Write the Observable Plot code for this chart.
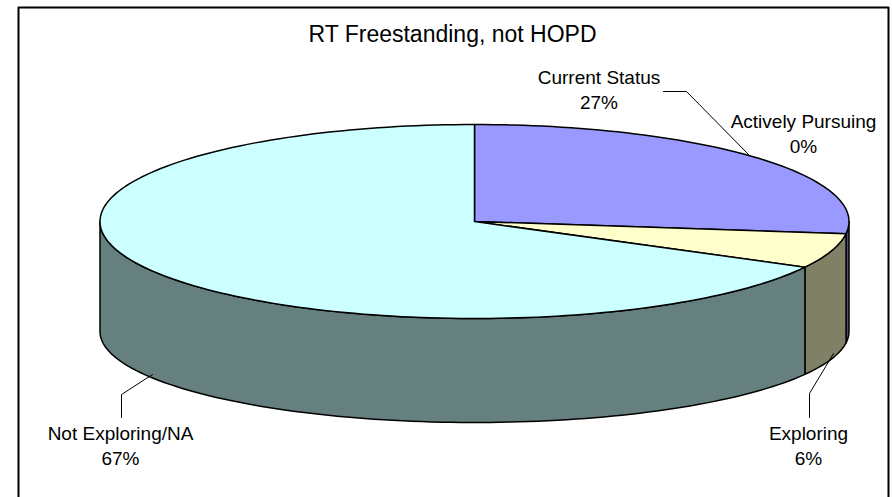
<!DOCTYPE html>
<html>
<head>
<meta charset="utf-8">
<style>html,body{margin:0;padding:0;background:#fff}svg{display:block}</style>
<script src="https://cdn.jsdelivr.net/npm/d3@7"></script>
<script src="https://cdn.jsdelivr.net/npm/@observablehq/plot@0.6"></script>
</head>
<body>
<script>
const categories = ["Current Status", "Actively Pursuing", "Exploring", "Not Exploring/NA"];
const shares = [27, 0, 5.8, 67.2];
const topColors = ["#9999FF", "#993366", "#FFFFCC", "#CCFFFF"];
const sideColors = ["#4C4C80", "#4C1A33", "#808066", "#668080"];
const titleText = "RT Freestanding, not HOPD";

// pie geometry
const W = 892, H = 497;
const cx = 474, cy = 221, rx = 374.5, ry = 97, botCy = 331, botRy = 91;
const pt = (deg, c = cy, r = ry) => {
  const a = deg * Math.PI / 180;
  return [cx + rx * Math.sin(a), c - r * Math.cos(a)];
};
const arc = (a0, a1, c, r) => {
  const n = Math.max(1, Math.ceil(Math.abs(a1 - a0) / 1.5));
  return d3.range(n + 1).map(i => pt(a0 + (a1 - a0) * i / n, c, r));
};
let acc = 0;
const slices = categories.map((name, i) => {
  const a0 = acc * 3.6; acc += shares[i];
  return {name, a0, a1: acc * 3.6, i};
});
const topRows = [], sideRows = [];
for (const s of slices) {
  if (s.a1 === s.a0) continue;
  const poly = [[cx, cy], ...arc(s.a0, s.a1), [cx, cy]];
  poly.forEach(p => topRows.push({x: p[0], y: p[1], k: s.name, c: topColors[s.i]}));
  const f0 = Math.max(s.a0, 90), f1 = Math.min(s.a1, 270);
  if (f1 > f0) {
    const side = [...arc(f0, f1), ...arc(f1, f0, botCy, botRy)];
    side.push(side[0]);
    side.forEach(p => sideRows.push({x: p[0], y: p[1], k: s.name, c: sideColors[s.i]}));
  }
}
const leaders = [
  [[663, 91], [686, 91], [750, 156]],
  [[809, 417], [809, 393], [833, 353]],
  [[121, 417], [121, 394], [152, 374]]
].flatMap((l, k) => l.map(p => ({x: p[0], y: p[1], k})));
const pct = v => Math.round(v) + "%";
const labels = [
  {t: categories[0], x: 598.5, y: 77.5}, {t: pct(shares[0]), x: 598.5, y: 102.5},
  {t: categories[1], x: 803, y: 121}, {t: pct(shares[1]), x: 803, y: 146},
  {t: categories[2], x: 808, y: 433}, {t: pct(shares[2]), x: 808, y: 458},
  {t: categories[3], x: 120, y: 433}, {t: pct(shares[3]), x: 120, y: 458}
];
const frame = [[18, 497], [18, 7], [888, 7], [888, 497]].map(p => ({x: p[0], y: p[1]}));
const font = "Liberation Sans, Arial, sans-serif";

const chart = Plot.plot({
  width: W, height: H, margin: 0,
  style: {background: "#fff", fontFamily: font},
  x: {domain: [0, W], range: [0, W], axis: null},
  y: {domain: [0, H], range: [0, H], axis: null},
  marks: [
    Plot.line(frame, {x: "x", y: "y", stroke: "#000", strokeWidth: 2}),
    Plot.line(sideRows, {x: "x", y: "y", z: "k", fill: "c", stroke: "#000", strokeWidth: 1.5, curve: "linear"}),
    Plot.line(topRows, {x: "x", y: "y", z: "k", fill: "c", stroke: "#000", strokeWidth: 1.5, curve: "linear"}),
    Plot.line(leaders, {x: "x", y: "y", z: "k", stroke: "#000", strokeWidth: 1}),
    Plot.text(labels, {x: "x", y: "y", text: "t", fontSize: 19, fill: "#000"}),
    Plot.text([titleText], {x: () => 452, y: () => 34, text: d => d, fontSize: 23, fill: "#000"})
  ]
});
document.body.appendChild(chart);
</script>
</body>
</html>
